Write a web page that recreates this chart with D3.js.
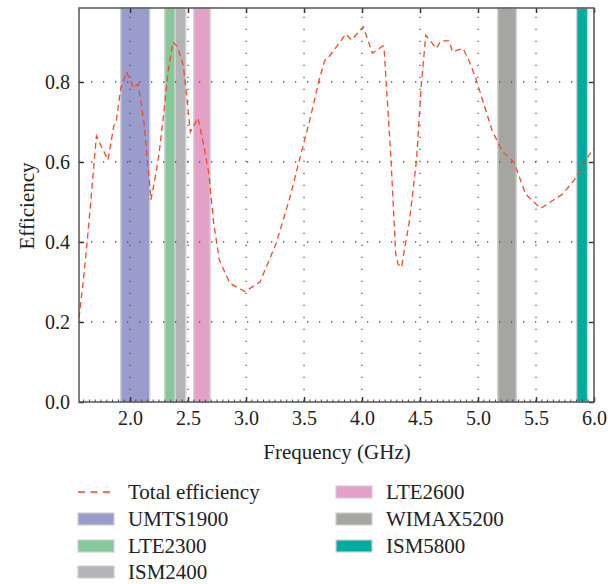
<!DOCTYPE html>
<html>
<head>
<meta charset="utf-8">
<script src="https://cdn.jsdelivr.net/npm/d3@7"></script>
<style>
  html, body { margin: 0; padding: 0; background: #fff; }
  svg { display: block; }
  text { font-family: "Liberation Serif", "DejaVu Serif", serif; fill: #222; }
</style>
</head>
<body>
<svg id="chart" width="608" height="584"></svg>
<script>
// ---- data ----
const freq = [1.56,1.60,1.63,1.67,1.71,1.76,1.81,1.86,1.88,1.92,1.97,2.03,2.07,2.12,2.15,2.18,2.21,2.25,2.29,2.33,2.37,2.41,2.46,2.49,2.52,2.585,2.63,2.68,2.72,2.77,2.86,2.99,3.12,3.26,3.38,3.46,3.55,3.63,3.68,3.72,3.81,3.86,3.91,4.01,4.09,4.18,4.19,4.25,4.29,4.31,4.34,4.41,4.47,4.51,4.55,4.64,4.68,4.75,4.78,4.87,4.92,4.98,5.12,5.21,5.31,5.41,5.54,5.73,5.83,5.93,6.00];
const efficiency = [0.21,0.31,0.40,0.53,0.665,0.635,0.605,0.69,0.70,0.785,0.825,0.785,0.795,0.70,0.605,0.505,0.55,0.62,0.72,0.83,0.90,0.888,0.84,0.76,0.675,0.71,0.65,0.57,0.45,0.355,0.297,0.276,0.30,0.397,0.513,0.605,0.705,0.805,0.855,0.865,0.90,0.92,0.905,0.938,0.872,0.89,0.885,0.605,0.372,0.345,0.337,0.455,0.605,0.79,0.917,0.884,0.903,0.903,0.876,0.884,0.855,0.81,0.68,0.626,0.60,0.52,0.484,0.52,0.555,0.605,0.635];

const bandNames = ["UMTS1900","LTE2300","ISM2400","LTE2600","WIMAX5200","ISM5800"];
const bandStart = [1.92, 2.30, 2.39, 2.55, 5.17, 5.85];
const bandEnd   = [2.17, 2.39, 2.48, 2.69, 5.33, 5.945];
const bandColors = ["#9a9dcc","#85c99b","#b3b4b8","#e4a0c7","#a5a6a1","#00ab9f"];

const xTicks = [2.0,2.5,3.0,3.5,4.0,4.5,5.0,5.5,6.0];
const yTicks = [0.0,0.2,0.4,0.6,0.8];
const xDomain = [1.56, 6.0];
const yDomain = [0, 0.985];

// ---- layout ----
const L = 79, R = 594, T = 8, B = 402;
const svg = d3.select("#chart");
const x = d3.scaleLinear().domain(xDomain).range([L, R]);
const y = d3.scaleLinear().domain(yDomain).range([B, T]);

// bands
svg.append("g").selectAll("rect").data(bandNames).join("rect")
  .attr("x", (d,i) => x(bandStart[i]))
  .attr("width", (d,i) => x(bandEnd[i]) - x(bandStart[i]))
  .attr("y", T).attr("height", B - T)
  .attr("fill", (d,i) => bandColors[i])
  .attr("stroke", "#cfd0d4").attr("stroke-width", 1.5);

// grid
const grid = svg.append("g").attr("stroke", "#555").attr("stroke-width", 1.3).attr("stroke-dasharray", "1.3,10.7");
grid.selectAll("line.v").data(xTicks.filter(d => d < 6)).join("line")
  .attr("x1", d => x(d)).attr("x2", d => x(d)).attr("y1", B).attr("y2", T);
grid.selectAll("line.h").data(yTicks.filter(d => d > 0)).join("line")
  .attr("y1", d => y(d)).attr("y2", d => y(d)).attr("x1", L).attr("x2", R);

// line
const line = d3.line().x(d => x(d[0])).y(d => y(d[1]));
svg.append("path")
  .datum(freq.map((f,i) => [f, efficiency[i]]))
  .attr("d", line)
  .attr("fill", "none")
  .attr("stroke", "#ee4b2e")
  .attr("stroke-width", 1.3)
  .attr("stroke-dasharray", "6,4");

// axes
const fmt = d3.format(".1f");
const minorX = d3.range(1.6, 6.0001, 0.05);
const axB = svg.append("g").attr("transform", `translate(0,${B})`)
  .call(d3.axisBottom(x).tickValues(xTicks).tickFormat(fmt).tickSize(-5).tickPadding(9));
axB.append("g").selectAll("line").data(minorX).join("line")
  .attr("x1", d => x(d)).attr("x2", d => x(d)).attr("y1", 0).attr("y2", -2.5)
  .attr("stroke", "#444");
const axT = svg.append("g").attr("transform", `translate(0,${T})`)
  .call(d3.axisTop(x).tickValues(xTicks).tickFormat("").tickSize(-5));
const axL = svg.append("g").attr("transform", `translate(${L},0)`)
  .call(d3.axisLeft(y).tickValues(yTicks).tickFormat(fmt).tickSize(-5).tickPadding(9));
const axR = svg.append("g").attr("transform", `translate(${R},0)`)
  .call(d3.axisRight(y).tickValues(yTicks).tickFormat("").tickSize(-5));
[axB, axT, axL, axR].forEach(a => {
  a.select(".domain").remove();
  a.selectAll(".tick line").attr("stroke", "#333").attr("stroke-width", 1.5);
  a.selectAll("text").attr("font-size", 20).attr("font-family", "Liberation Serif, serif").attr("fill", "#222");
});
svg.append("rect").attr("x", L).attr("y", T).attr("width", R - L).attr("height", B - T)
  .attr("fill", "none").attr("stroke", "#555").attr("stroke-width", 1.5);

// titles
svg.append("text").attr("x", 337).attr("y", 459).attr("text-anchor", "middle")
  .attr("font-size", 21).text("Frequency (GHz)");
svg.append("text").attr("transform", `translate(34,${206}) rotate(-90)`)
  .attr("text-anchor", "middle").attr("font-size", 21).text("Efficiency");

// legend
const legendItems = ["Total efficiency"].concat(bandNames);
const legendCols = [78, 336];
const rowY = [492, 519, 546, 572];
const lg = svg.append("g");
legendItems.forEach((name, i) => {
  const col = i < 4 ? 0 : 1;
  const row = i < 4 ? i : i - 4;
  const gx = legendCols[col], gy = rowY[row];
  if (i === 0) {
    lg.append("line").attr("x1", gx).attr("x2", gx + 36).attr("y1", gy).attr("y2", gy)
      .attr("stroke", "#ee4b2e").attr("stroke-width", 1.3).attr("stroke-dasharray", "7,5.5");
  } else {
    lg.append("rect").attr("x", gx).attr("y", gy - 6).attr("width", 36).attr("height", 12)
      .attr("fill", bandColors[i - 1]).attr("stroke", "#cfd0d4").attr("stroke-width", 1.2);
  }
  lg.append("text").attr("x", gx + 50).attr("y", gy + 7).attr("font-size", 21).text(name);
});
</script>
</body>
</html>
